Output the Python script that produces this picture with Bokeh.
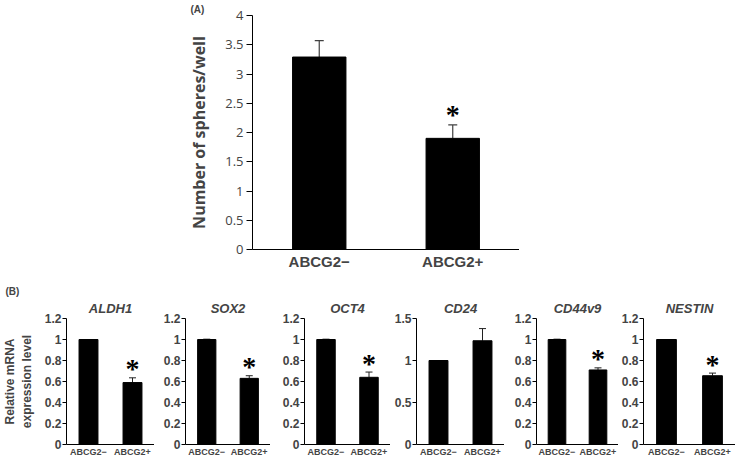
from bokeh.plotting import figure
from bokeh.layouts import column, row
from bokeh.models import (ColumnDataSource, Whisker, TeeHead, FixedTicker, Title,
                          Range1d, FactorRange, PrintfTickFormatter)
from bokeh.embed import file_html
from bokeh.resources import INLINE

# ---------------- data ----------------
groups = ["ABCG2\u2212", "ABCG2+"]

# Panel A: spheres per well
spheres_mean = [3.29, 1.90]
spheres_err = [0.28, 0.23]
spheres_sig = ["", "*"]
a_ticks = [0, 0.5, 1, 1.5, 2, 2.5, 3, 3.5, 4]

# Panel B: relative mRNA expression
genes = ["ALDH1", "SOX2", "OCT4", "CD24", "CD44v9", "NESTIN"]
neg_mean = [1.0, 1.0, 1.0, 1.0, 1.0, 1.0]
neg_err = [0.0, 0.003, 0.003, 0.0, 0.003, 0.0]
pos_mean = [0.59, 0.63, 0.64, 1.235, 0.71, 0.655]
pos_err = [0.045, 0.025, 0.05, 0.145, 0.02, 0.025]
pos_sig = ["*", "*", "*", "", "*", "*"]
b_ymax = [1.2, 1.2, 1.2, 1.5, 1.2, 1.2]
ticks_12 = [0, 0.2, 0.4, 0.6, 0.8, 1.0, 1.2]
ticks_15 = [0, 0.5, 1.0, 1.5]
b_ticks = [ticks_12, ticks_12, ticks_12, ticks_15, ticks_12, ticks_12]

# ---------------- layout sizes ----------------
frame_w = [88, 85, 86, 88, 82, 92]
left_b = [63, 31, 34, 26, 32, 22]

ARIAL = "Liberation Sans"


def style_common(p):
    p.outline_line_color = None
    p.grid.visible = False
    p.background_fill_color = "white"
    p.border_fill_color = "white"


# ---------------- panel A ----------------
src_a = ColumnDataSource(dict(
    x=groups, top=spheres_mean,
    upper=[m + e for m, e in zip(spheres_mean, spheres_err)],
    sig=spheres_sig))

pa = figure(x_range=FactorRange(*groups, range_padding=0), y_range=Range1d(0, 4),
            frame_width=267, frame_height=234,
            min_border_left=252, min_border_right=0,
            min_border_top=14, min_border_bottom=22,
            output_backend="svg", toolbar_location=None)
style_common(pa)
pa.vbar(x="x", top="top", width=0.4, source=src_a, fill_color="black", line_color="black")
pa.add_layout(Whisker(base="x", lower="top", upper="upper", source=src_a,
                      line_color="#404040", line_width=1.2,
                      upper_head=TeeHead(size=9, line_color="#404040", line_width=1.2),
                      lower_head=None))
pa.text(x="x", y="upper", text="sig", source=src_a, text_align="center",
        text_baseline="alphabetic", y_offset=-10, text_font=ARIAL,
        text_font_style="bold", text_font_size="28px", text_color="black")

pa.yaxis.ticker = FixedTicker(ticks=a_ticks)
pa.yaxis.formatter = PrintfTickFormatter(format="%g")
pa.yaxis.major_tick_out = 6
pa.yaxis.major_tick_in = 0
pa.yaxis.minor_tick_line_color = None
pa.yaxis.major_label_text_font = "Open Sans"
pa.yaxis.major_label_text_font_size = "13px"
pa.yaxis.major_label_standoff = 3
pa.yaxis.axis_label = "Number of spheres/well"
pa.yaxis.axis_label_text_font = "Open Sans"
pa.yaxis.axis_label_text_font_style = "bold"
pa.yaxis.axis_label_text_font_size = "16px"
pa.yaxis.axis_label_standoff = 12
pa.yaxis.axis_line_color = "black"
pa.yaxis.major_tick_line_color = "black"

pa.xaxis.major_tick_line_color = None
pa.xaxis.major_tick_out = 0
pa.xaxis.minor_tick_line_color = None
pa.xaxis.major_label_text_font = ARIAL
pa.xaxis.major_label_text_font_style = "bold"
pa.xaxis.major_label_text_font_size = "15px"
pa.xaxis.major_label_standoff = 3
pa.xaxis.axis_line_color = "black"

pa.add_layout(Title(text="(A)", align="left", offset=-62, standoff=2,
                    text_font=ARIAL, text_font_style="bold", text_font_size="10px"),
              "above")

# ---------------- panel B ----------------
figs_b = []
for i, g in enumerate(genes):
    src = ColumnDataSource(dict(
        x=groups, top=[neg_mean[i], pos_mean[i]],
        upper=[neg_mean[i] + neg_err[i], pos_mean[i] + pos_err[i]],
        sig=["", pos_sig[i]]))
    p = figure(x_range=FactorRange(*groups, range_padding=0), y_range=Range1d(0, b_ymax[i]),
               frame_width=frame_w[i], frame_height=126,
               min_border_left=left_b[i], min_border_right=0,
               min_border_top=46, min_border_bottom=14,
               output_backend="svg", toolbar_location=None)
    style_common(p)
    p.vbar(x="x", top="top", width=0.43, source=src, fill_color="black", line_color="black")
    p.add_layout(Whisker(base="x", lower="top", upper="upper", source=src,
                         line_color="#202020", line_width=1,
                         upper_head=TeeHead(size=7, line_color="#202020", line_width=1),
                         lower_head=None))
    p.text(x="x", y="upper", text="sig", source=src, text_align="center",
           text_baseline="alphabetic", y_offset=-9, text_font=ARIAL,
           text_font_style="bold", text_font_size="28px", text_color="black")

    p.add_layout(Title(text=g, align="center", standoff=5, text_font=ARIAL,
                       text_font_style="bold italic", text_font_size="13px"), "above")

    p.yaxis.ticker = FixedTicker(ticks=b_ticks[i])
    p.yaxis.formatter = PrintfTickFormatter(format="%g")
    p.yaxis.major_tick_out = 4
    p.yaxis.major_tick_in = 0
    p.yaxis.minor_tick_line_color = None
    p.yaxis.major_label_text_font = ARIAL
    p.yaxis.major_label_text_font_style = "bold"
    p.yaxis.major_label_text_font_size = "12px"
    p.yaxis.major_label_standoff = 1
    p.yaxis.axis_line_color = "black"

    p.xaxis.major_tick_line_color = None
    p.xaxis.major_tick_out = 0
    p.xaxis.minor_tick_line_color = None
    p.xaxis.major_label_text_font = ARIAL
    p.xaxis.major_label_text_font_style = "bold"
    p.xaxis.major_label_text_font_size = "9px"
    p.xaxis.major_label_standoff = 2
    p.xaxis.axis_line_color = "black"

    if i == 0:
        p.yaxis.axis_label = "Relative mRNA\nexpression level"
        p.yaxis.axis_label_text_font = ARIAL
        p.yaxis.axis_label_text_font_style = "bold"
        p.yaxis.axis_label_text_font_size = "12px"
        p.yaxis.axis_label_standoff = 8
        p.add_layout(Title(text="(B)", align="left", offset=-61, standoff=0,
                           text_font=ARIAL, text_font_style="bold",
                           text_font_size="10px"), "above")
    figs_b.append(p)

layout = column(pa, row(*figs_b, spacing=0), spacing=0)

open("out.html", "w").write(file_html(layout, INLINE))
